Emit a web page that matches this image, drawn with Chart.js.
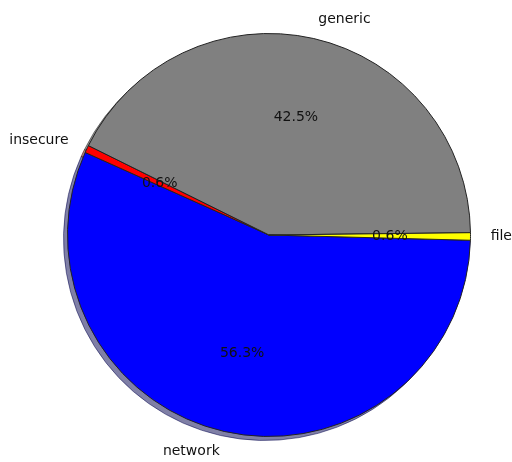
<!DOCTYPE html>
<html>
<head>
<meta charset="utf-8">
<script src="https://cdn.jsdelivr.net/npm/chart.js@4.4.0/dist/chart.umd.min.js"></script>
<style>
    html, body { margin: 0; padding: 0; background: #fff; }
    #wrap { width: 512px; height: 462px; }
</style>
</head>
<body>
<div id="wrap"><canvas id="pie" width="512" height="462"></canvas></div>
<script>
const labels = ['file', 'generic', 'insecure', 'network'];
const values = [0.6, 42.5, 0.6, 56.3];
const colors = ['#ffff00', '#808080', '#ff0000', '#0000ff'];
const pctLabels = ['0.6%', '42.5%', '0.6%', '56.3%'];

// matplotlib goes counter-clockwise, Chart.js clockwise -> reverse the order
const order = labels.map((_, i) => labels.length - 1 - i);

const shadowPlugin = {
    id: 'shadow',
    beforeDatasetsDraw(chart) {
        const ctx = chart.ctx;
        const arcs = chart.getDatasetMeta(0).data;
        ctx.save();
        ctx.translate(-4, 4);
        arcs.forEach((arc, i) => {
            const p = arc.getProps(['x', 'y', 'startAngle', 'endAngle', 'outerRadius']);
            const c = hexToRgb(colors[order[i]]);
            const shade = `rgba(${Math.round(c[0] * 0.3)}, ${Math.round(c[1] * 0.3)}, ${Math.round(c[2] * 0.3)}, 0.5)`;
            ctx.beginPath();
            ctx.moveTo(p.x, p.y);
            ctx.arc(p.x, p.y, p.outerRadius, p.startAngle, p.endAngle);
            ctx.closePath();
            ctx.fillStyle = shade;
            ctx.strokeStyle = shade;
            ctx.lineWidth = 1;
            ctx.fill();
            ctx.stroke();
        });
        ctx.restore();
    },
};

const labelPlugin = {
    id: 'pieLabels',
    afterDatasetsDraw(chart) {
        const ctx = chart.ctx;
        const arcs = chart.getDatasetMeta(0).data;
        ctx.save();
        ctx.font = '14px "DejaVu Sans"';
        ctx.fillStyle = '#111';
        ctx.textBaseline = 'middle';
        arcs.forEach((arc, i) => {
            const idx = order[i];
            const p = arc.getProps(['x', 'y', 'startAngle', 'endAngle', 'outerRadius']);
            const mid = (p.startAngle + p.endAngle) / 2;
            const cos = Math.cos(mid);
            const sin = Math.sin(mid);

            ctx.textAlign = 'center';
            ctx.fillText(pctLabels[idx], p.x + cos * p.outerRadius * 0.6, p.y + sin * p.outerRadius * 0.6);

            ctx.textAlign = cos > 0 ? 'left' : 'right';
            ctx.fillText(labels[idx], p.x + cos * p.outerRadius * 1.1, p.y + sin * p.outerRadius * 1.1);
        });
        ctx.restore();
    },
};

function hexToRgb(hex) {
    const n = parseInt(hex.slice(1), 16);
    return [(n >> 16) & 255, (n >> 8) & 255, n & 255];
}

new Chart(document.getElementById('pie'), {
    type: 'pie',
    data: {
        labels: order.map(i => labels[i]),
        datasets: [{
            data: order.map(i => values[i]),
            backgroundColor: order.map(i => colors[i]),
            borderColor: '#222',
            borderWidth: 1,
        }],
    },
    options: {
        responsive: false,
        animation: false,
        rotation: 91.5,
        layout: { padding: { left: 67, right: 41, top: 33, bottom: 25 } },
        plugins: {
            legend: { display: false },
            tooltip: { enabled: false },
        },
    },
    plugins: [shadowPlugin, labelPlugin],
});
</script>
</body>
</html>
